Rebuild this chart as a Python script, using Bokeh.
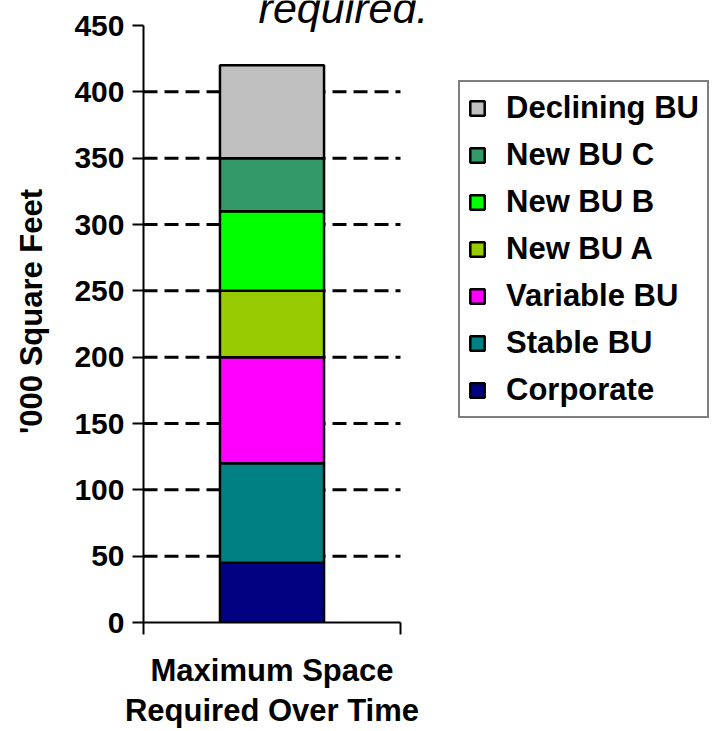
from bokeh.plotting import figure
from bokeh.models import (ColumnDataSource, Range1d, FixedTicker, Legend,
                          LegendItem, Label, LinearAxis)
from bokeh.embed import file_html
from bokeh.resources import INLINE

# Space requirement by business unit ('000 sq ft), stacked bottom to top
units = ["Corporate", "Stable BU", "Variable BU", "New BU A",
         "New BU B", "New BU C", "Declining BU"]
space = [45, 75, 80, 50, 60, 40, 70]
colors = ["#000080", "#008080", "#FF00FF", "#99CC00",
          "#00FF00", "#339966", "#C0C0C0"]
y_ticks = [0, 50, 100, 150, 200, 250, 300, 350, 400, 450]
grid_ticks = [50, 100, 150, 200, 250, 300, 350, 400]
category_label = "Maximum Space\nRequired Over Time"

FONT = "Liberation Sans"

# chart area: x in [0, 1] is the column's slot, the rest holds the legend
X_END = 574 / 257
Y_END = 622 / (597 / 450)

data = {"x": [0.5]}
for name, v in zip(units, space):
    data[name] = [v]
source = ColumnDataSource(data)

p = figure(width=717, height=731, output_backend="svg", toolbar_location=None,
           x_range=Range1d(0, X_END), y_range=Range1d(0, Y_END),
           min_border=0, min_border_left=143, min_border_right=0,
           min_border_top=0, min_border_bottom=109)
p.outline_line_color = None
p.background_fill_color = "white"
p.border_fill_color = "white"
p.grid.visible = False

# dashed horizontal guides across the column slot only
p.segment(x0=0, x1=1, y0=grid_ticks, y1=grid_ticks, line_color="black",
          line_width=3, line_dash="14 7")

renderers = p.vbar_stack(units, x="x", width=0.405, color=colors,
                         source=source, line_color="black", line_width=2.5)

# y axis
p.yaxis.bounds = (0, 450)
p.yaxis.ticker = FixedTicker(ticks=y_ticks)
p.yaxis.axis_line_color = "black"
p.yaxis.axis_line_width = 2
p.yaxis.major_tick_line_color = "black"
p.yaxis.major_tick_line_width = 2
p.yaxis.major_tick_out = 11
p.yaxis.major_tick_in = 0
p.yaxis.minor_tick_line_color = None
p.yaxis.major_label_standoff = 8
p.yaxis.major_label_text_font = FONT
p.yaxis.major_label_text_font_style = "bold"
p.yaxis.major_label_text_font_size = "30px"
p.yaxis.major_label_text_color = "black"
p.yaxis.axis_label = "'000 Square Feet"
p.yaxis.axis_label_text_font = FONT
p.yaxis.axis_label_text_font_style = "bold"
p.yaxis.axis_label_text_font_size = "31px"
p.yaxis.axis_label_text_color = "black"
p.yaxis.axis_label_standoff = 22

# x axis: a baseline with end ticks only
p.xaxis.bounds = (0, 1)
p.xaxis.ticker = FixedTicker(ticks=[0, 1])
p.xaxis.major_label_overrides = {0: "", 1: ""}
p.xaxis.major_label_text_font_size = "1px"
p.xaxis.major_label_standoff = 0
p.xaxis.axis_line_color = "black"
p.xaxis.axis_line_width = 2
p.xaxis.major_tick_line_color = "black"
p.xaxis.major_tick_line_width = 2
p.xaxis.major_tick_out = 12
p.xaxis.major_tick_in = 0
p.xaxis.minor_tick_line_color = None

# category caption under the column
cat_axis = LinearAxis(ticker=FixedTicker(ticks=[0.5]),
                      major_label_overrides={0.5: category_label})
cat_axis.axis_line_color = None
cat_axis.major_tick_line_color = None
cat_axis.minor_tick_line_color = None
cat_axis.major_tick_out = 0
cat_axis.major_tick_in = 0
cat_axis.major_label_standoff = 18
cat_axis.major_label_text_font = FONT
cat_axis.major_label_text_font_style = "bold"
cat_axis.major_label_text_font_size = "31px"
cat_axis.major_label_text_color = "black"
cat_axis.major_label_text_line_height = 1.16
p.add_layout(cat_axis, "below")

# legend, top entry first
items = [LegendItem(label=n, renderers=[r])
         for n, r in reversed(list(zip(units, renderers)))]
legend = Legend(items=items, location=(315, 204))
legend.border_line_color = "black"
legend.border_line_width = 2
legend.background_fill_color = "white"
legend.background_fill_alpha = 1
legend.padding = 8
legend.spacing = 11
legend.margin = 0
legend.glyph_width = 18
legend.glyph_height = 18
legend.label_standoff = 20
legend.label_text_font = FONT
legend.label_text_font_style = "bold"
legend.label_text_font_size = "31px"
legend.label_text_color = "black"
p.add_layout(legend)

# trailing heading text, cut at the top edge
p.add_layout(Label(x=0.778, y=463, text="required.", text_align="center",
                   text_baseline="alphabetic", text_font=FONT,
                   text_font_style="italic", text_font_size="43px",
                   text_color="black"))

open("out.html", "w").write(file_html(p, INLINE))
